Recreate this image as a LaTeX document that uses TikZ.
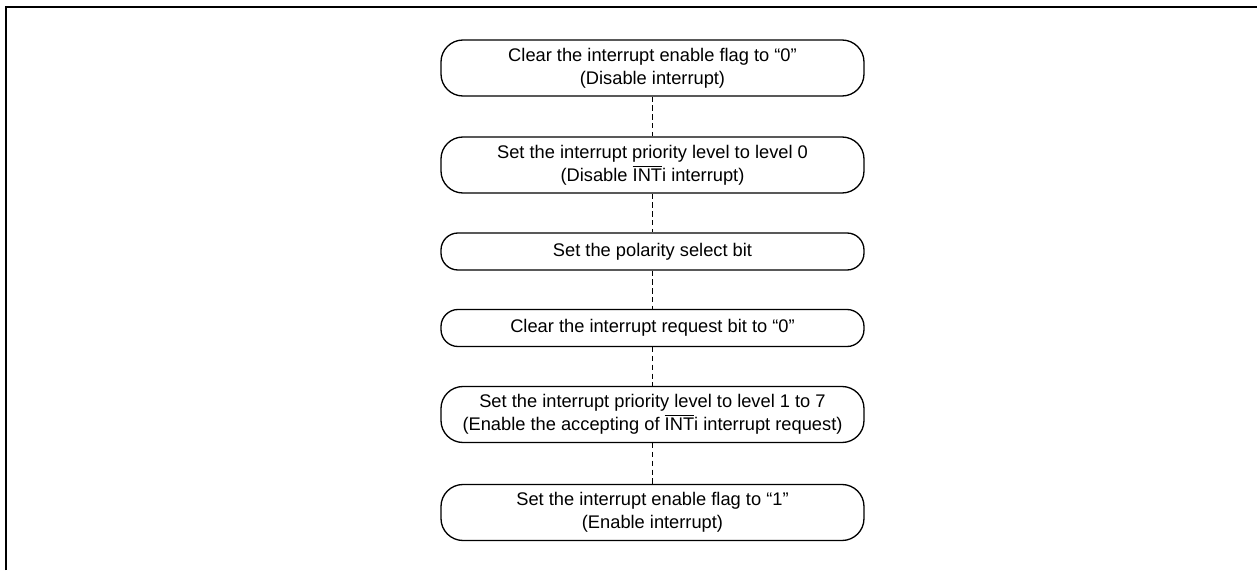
\documentclass[tikz,border=0pt]{standalone}
\usepackage{fontspec}
\setmainfont{Liberation Sans}
\usepackage{tikz}
\usetikzlibrary{positioning}

\newcommand{\intbar}{$\overline{\hbox{INT}}$i}

\begin{document}
\begin{tikzpicture}[
  stepbox/.style={draw, line width=0.75pt, rounded corners=0.44cm, align=center,
    font=\fontsize{10.4pt}{13pt}\selectfont, inner sep=2pt,
    minimum width=8.46cm, minimum height=1.12cm},
  thinbox/.style={stepbox, rounded corners=0.34cm, minimum height=0.74cm},
  link/.style={line width=0.5pt, dash pattern=on 3pt off 2pt}]

  \useasboundingbox (0,0) rectangle (25.14,-11.4);

  % frame (top and left edge)
  \draw[line width=1.6pt] (0.12,-11.4) -- (0.12,-0.14) -- (25.14,-0.14);

  % Steps
  \node[stepbox] (flagoff) at (13.05,-1.36) {Clear the interrupt enable flag to “0”\\(Disable interrupt)};
  \node[stepbox] (lvlzero) at (13.05,-3.3) {Set the interrupt priority level to level 0\\(Disable \intbar{} interrupt)};
  \node[thinbox] (polsel) at (13.05,-5.03) {Set the polarity select bit};
  \node[thinbox] (reqclr) at (13.05,-6.56) {Clear the interrupt request bit to “0”};
  \node[stepbox] (lvlon) at (13.05,-8.29) {Set the interrupt priority level to level 1 to 7\\(Enable the accepting of \intbar{} interrupt request)};
  \node[stepbox] (flagon) at (13.05,-10.25) {Set the interrupt enable flag to “1”\\(Enable interrupt)};

  % Dashed links
  \draw[link] (flagoff) -- (lvlzero);
  \draw[link] (lvlzero) -- (polsel);
  \draw[link] (polsel) -- (reqclr);
  \draw[link] (reqclr) -- (lvlon);
  \draw[link] (lvlon) -- (flagon);

\end{tikzpicture}
\end{document}
